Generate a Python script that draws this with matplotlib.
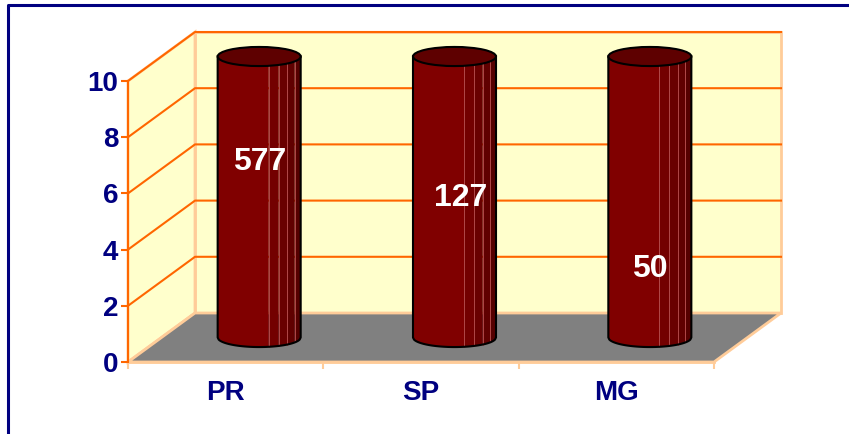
import numpy as np
import matplotlib.pyplot as plt
from matplotlib.patches import Polygon, Ellipse
from matplotlib.lines import Line2D

plt.rcParams['font.family'] = ['Liberation Sans', 'DejaVu Sans']

categories = ['PR', 'SP', 'MG']
values = [10, 10, 10]
labels = ['577', '127', '50']
label_y = [7.1, 5.85, 3.3]
label_dx = [0.0, 0.03, 0.0]
yticks = [0, 2, 4, 6, 8, 10]

navy = '#000080'
orange = '#FF6600'
edge = '#FFCC99'
wall = '#FFFFCC'

W, H = 849, 434
fig = plt.figure(figsize=(W / 100, H / 100), dpi=100)
# front plane: x 128..714 px, y 362..81 px
ax = fig.add_axes([128 / W, (H - 362) / H, 586 / W, 281 / H])
n = len(categories)
ax.set_xlim(0, n)
ax.set_ylim(0, 10)

# depth offset (data units)
dx = 67 / (586 / n)
dy = 49 / (281 / 10)

# back wall
ax.add_patch(Polygon([[dx, dy], [n + dx, dy], [n + dx, 10 + dy], [dx, 10 + dy]],
                     closed=True, facecolor=wall, edgecolor=edge, lw=2, clip_on=False, zorder=1))
# left wall
ax.add_patch(Polygon([[0, 0], [dx, dy], [dx, 10 + dy], [0, 10]],
                     closed=True, facecolor=wall, edgecolor=edge, lw=2, clip_on=False, zorder=1))
# floor
ax.add_patch(Polygon([[0, 0], [n, 0], [n + dx, dy], [dx, dy]],
                     closed=True, facecolor='#808080', edgecolor=edge, lw=2, clip_on=False, zorder=2))

# gridlines on walls
for t in yticks[1:]:
    ax.add_line(Line2D([0, dx, n + dx], [t, t + dy, t + dy], color=orange, lw=1.5,
                       clip_on=False, zorder=2))

# cylinders
rx = 0.425 / 2
ry = 0.34
bands = [0.0, 0.615, 0.735, 0.84, 0.928, 1.0]
shades = ['#800000', '#730000', '#690000', '#600000', '#560000']
for i, v in enumerate(values):
    xc = i + 0.5 + dx / 2
    yb = dy / 2
    yt = v + dy / 2
    for k in range(len(shades)):
        a = xc - rx + bands[k] * 2 * rx
        b = xc - rx + bands[k + 1] * 2 * rx
        xs = np.linspace(a, b, 30)
        ys = yb - ry * np.sqrt(np.clip(1 - ((xs - xc) / rx) ** 2, 0, 1))
        pts = [[a, yt]] + list(zip(xs, ys)) + [[b, yt]]
        ax.add_patch(Polygon(pts, closed=True, facecolor=shades[k], edgecolor='none',
                             clip_on=False, zorder=4))
        if k > 0:
            ax.add_line(Line2D([a, a], [yt, ys[0]], color='#B04848', lw=0.7,
                               clip_on=False, zorder=5))
    xs = np.linspace(xc - rx, xc + rx, 80)
    ys = yb - ry * np.sqrt(np.clip(1 - ((xs - xc) / rx) ** 2, 0, 1))
    ax.add_line(Line2D(np.r_[xc - rx, xs, xc + rx], np.r_[yt, ys, yt], color='black',
                       lw=1.5, clip_on=False, zorder=6))
    ax.add_patch(Ellipse((xc, yt), 2 * rx, 2 * ry, facecolor='#5E0000', edgecolor='black',
                         lw=1.5, clip_on=False, zorder=7))
    ax.text(xc + label_dx[i], label_y[i], labels[i], color='white', fontsize=23,
            fontweight='bold', ha='center', va='center', zorder=8)

# axes styling
for s in ['top', 'right']:
    ax.spines[s].set_visible(False)
ax.spines['left'].set_color(orange)
ax.spines['left'].set_linewidth(1.5)
ax.spines['bottom'].set_color(edge)
ax.spines['bottom'].set_linewidth(2)
ax.spines['left'].set_zorder(3)
ax.patch.set_visible(False)

ax.set_yticks(yticks)
ax.set_yticklabels([str(t) for t in yticks], color=navy, fontsize=20, fontweight='bold')
ax.tick_params(axis='y', colors=orange, length=5, width=1.5, pad=2, labelcolor=navy)

ax.set_xticks([i + 0.5 for i in range(n)])
ax.set_xticklabels(categories, color=navy, fontsize=20, fontweight='bold')
ax.set_xticks(range(n + 1), minor=True)
ax.tick_params(axis='x', which='major', length=0, pad=13)
ax.tick_params(axis='x', which='minor', colors=edge, length=5, width=1.5)

# outer frame (top and left)
fig.add_artist(Line2D([7.5 / W, 7.5 / W, 1], [0, 1 - 5 / H, 1 - 5 / H], color=navy, lw=2.2,
                      transform=fig.transFigure))

fig.savefig('out.png', dpi=100)
